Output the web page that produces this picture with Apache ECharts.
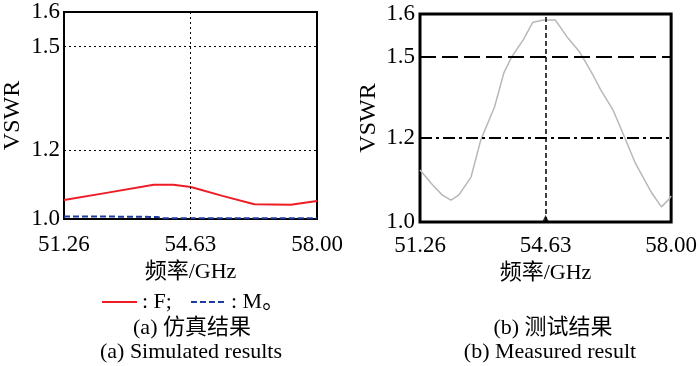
<!DOCTYPE html>
<html><head><meta charset="utf-8">
<script src="https://cdn.jsdelivr.net/npm/echarts@6.0.0/dist/echarts.min.js"></script>
<style>html,body{margin:0;padding:0;background:#fff}#c{width:700px;height:366px}</style>
</head><body><div id="c"></div>
<script>
// ---- data ----
const xTicks = [51.26, 54.63, 58.00];
const yTicks = [1.0, 1.2, 1.5, 1.6];

// (a) simulated, series F
const simFFreq = [51.26, 52.35, 53.65, 54.17, 54.64, 55.48, 56.33, 57.30, 58.00];
const simFVal  = [1.055, 1.075, 1.099, 1.099, 1.093, 1.067, 1.043, 1.041, 1.052];
// (a) simulated, series M
const simMFreq = [51.26, 52.50, 53.75, 53.85, 55.50, 58.00];
const simMVal  = [1.007, 1.007, 1.006, 1.002, 1.002, 1.002];

// (b) measured
const measFreq = [51.26, 51.60, 51.86, 52.09, 52.30, 52.63, 52.89, 53.26, 53.51, 53.72, 54.03, 54.29, 54.58, 54.89, 55.02, 55.23, 55.54, 55.67, 55.93, 56.11, 56.44, 56.76, 57.04, 57.48, 57.74, 57.95, 58.00];
const measVal  = [1.124, 1.088, 1.064, 1.052, 1.064, 1.107, 1.195, 1.315, 1.441, 1.500, 1.540, 1.581, 1.586, 1.586, 1.570, 1.544, 1.512, 1.489, 1.426, 1.378, 1.304, 1.200, 1.140, 1.069, 1.036, 1.055, 1.062];

// ---- the measured plot's VSWR axis is non-uniform: piecewise-linear scale ----
const measAxisStops = [0, 84, 165, 208];
function measScale(v) {
  for (let i = 0; i < yTicks.length - 1; i++) {
    if (v <= yTicks[i + 1] || i === yTicks.length - 2) {
      const t = (v - yTicks[i]) / (yTicks[i + 1] - yTicks[i]);
      return measAxisStops[i] + t * (measAxisStops[i + 1] - measAxisStops[i]);
    }
  }
}
function measLabel(p) {
  let best = 0;
  for (let i = 0; i < measAxisStops.length; i++) if (Math.abs(measAxisStops[i] - p) < Math.abs(measAxisStops[best] - p)) best = i;
  return yTicks[best].toFixed(1);
}

const FONT = '"Liberation Serif", "Noto Sans CJK SC", serif';
const txt = { color: '#000', fontFamily: FONT, fontSize: 23 };

const chart = echarts.init(document.getElementById('c'), null, { renderer: 'canvas' });
const zip = (a, b) => a.map((x, i) => [x, b[i]]);

chart.setOption({
  animation: false,
  backgroundColor: '#fff',
  grid: [
    { left: 58, top: 12, width: 259, height: 207, show: true, borderColor: '#000', borderWidth: 2, backgroundColor: 'transparent' },
    { left: 420, top: 14, width: 260, height: 208, show: true, borderColor: '#000', borderWidth: 3, backgroundColor: 'transparent' }
  ],
  xAxis: [
    { gridIndex: 0, type: 'value', min: xTicks[0], max: xTicks[2],
      axisLine: { show: false }, axisTick: { show: false }, splitLine: { show: false },
      axisLabel: Object.assign({ customValues: xTicks, margin: 14, formatter: v => v.toFixed(2) }, txt),
      name: '频率/GHz', nameLocation: 'middle', nameGap: 37, nameTextStyle: Object.assign({}, txt, { fontSize: 22 }) },
    { gridIndex: 1, type: 'value', min: xTicks[0], max: xTicks[2],
      axisLine: { show: false }, axisTick: { show: false }, splitLine: { show: false },
      axisLabel: Object.assign({ customValues: xTicks, margin: 12, formatter: v => v.toFixed(2) }, txt),
      name: '频率/GHz', nameLocation: 'middle', nameGap: 34, nameTextStyle: Object.assign({}, txt, { fontSize: 22 }) }
  ],
  yAxis: [
    { gridIndex: 0, type: 'value', min: yTicks[0], max: yTicks[3],
      axisLine: { show: false }, axisTick: { show: false }, splitLine: { show: false },
      axisLabel: Object.assign({ customValues: yTicks, margin: 4, formatter: v => v.toFixed(1) }, txt),
      name: 'VSWR', nameLocation: 'middle', nameRotate: 90, nameGap: 39, nameTextStyle: Object.assign({}, txt, { fontSize: 24 }) },
    { gridIndex: 1, type: 'value', min: measAxisStops[0], max: measAxisStops[3],
      axisLine: { show: false }, axisTick: { show: false }, splitLine: { show: false },
      axisLabel: Object.assign({ customValues: measAxisStops, margin: 5, formatter: p => measLabel(p) }, txt),
      name: 'VSWR', nameLocation: 'middle', nameRotate: 90, nameGap: 39, nameTextStyle: Object.assign({}, txt, { fontSize: 24 }) }
  ],
  legend: {
    left: 96, top: 286, itemWidth: 35, itemHeight: 14, itemGap: 18,
    data: ['F', 'M'],
    itemStyle: { opacity: 0 },
    formatter: n => n === 'F' ? ': F;' : ': M。',
    textStyle: Object.assign({}, txt, { fontSize: 22 })
  },
  series: [
    { name: 'F', type: 'line', xAxisIndex: 0, yAxisIndex: 0, data: zip(simFFreq, simFVal),
      symbol: 'none', lineStyle: { color: '#ee1c25', width: 2 }, itemStyle: { color: '#ee1c25' },
      markLine: { silent: true, symbol: 'none', label: { show: false },
        lineStyle: { color: '#000', type: [2, 3], width: 1 },
        data: [{ yAxis: yTicks[1] }, { yAxis: yTicks[2] }, { xAxis: xTicks[1] }] } },
    { name: 'M', type: 'line', xAxisIndex: 0, yAxisIndex: 0, data: zip(simMFreq, simMVal),
      symbol: 'none', lineStyle: { color: '#1f3a9e', width: 2, type: [6, 3] }, itemStyle: { color: '#1f3a9e' } },
    { name: 'measured', type: 'line', xAxisIndex: 1, yAxisIndex: 1,
      data: measFreq.map((f, i) => [f, measScale(measVal[i])]),
      symbol: 'none', lineStyle: { color: '#b8b8b8', width: 1.5 }, itemStyle: { color: '#b8b8b8' },
      markLine: { silent: true, symbol: 'none', label: { show: false },
        data: [
          { yAxis: measScale(yTicks[2]), lineStyle: { color: '#000', type: [16, 6], width: 2 } },
          { yAxis: measScale(yTicks[1]), lineStyle: { color: '#000', type: [12, 4, 3, 4], width: 2 } },
          { xAxis: xTicks[1], lineStyle: { color: '#000', type: [5, 3], width: 1.5 } }
        ] } },
    { name: 'marker', type: 'scatter', xAxisIndex: 1, yAxisIndex: 1,
      data: [[xTicks[1], measScale(yTicks[0])]], symbol: 'triangle', symbolSize: 8,
      symbolOffset: [0, -3], itemStyle: { color: '#000' }, silent: true }
  ],
  graphic: [
    { type: 'text', x: 192, y: 328, style: { text: '(a) 仿真结果', fill: '#000', font: '22px ' + FONT, textAlign: 'center', textVerticalAlign: 'middle' } },
    { type: 'text', x: 191, y: 352, style: { text: '(a) Simulated results', fill: '#000', font: '22px ' + FONT, textAlign: 'center', textVerticalAlign: 'middle' } },
    { type: 'text', x: 553, y: 328, style: { text: '(b) 测试结果', fill: '#000', font: '22px ' + FONT, textAlign: 'center', textVerticalAlign: 'middle' } },
    { type: 'text', x: 550, y: 352, style: { text: '(b) Measured result', fill: '#000', font: '22px ' + FONT, textAlign: 'center', textVerticalAlign: 'middle' } }
  ]
});
</script></body></html>
